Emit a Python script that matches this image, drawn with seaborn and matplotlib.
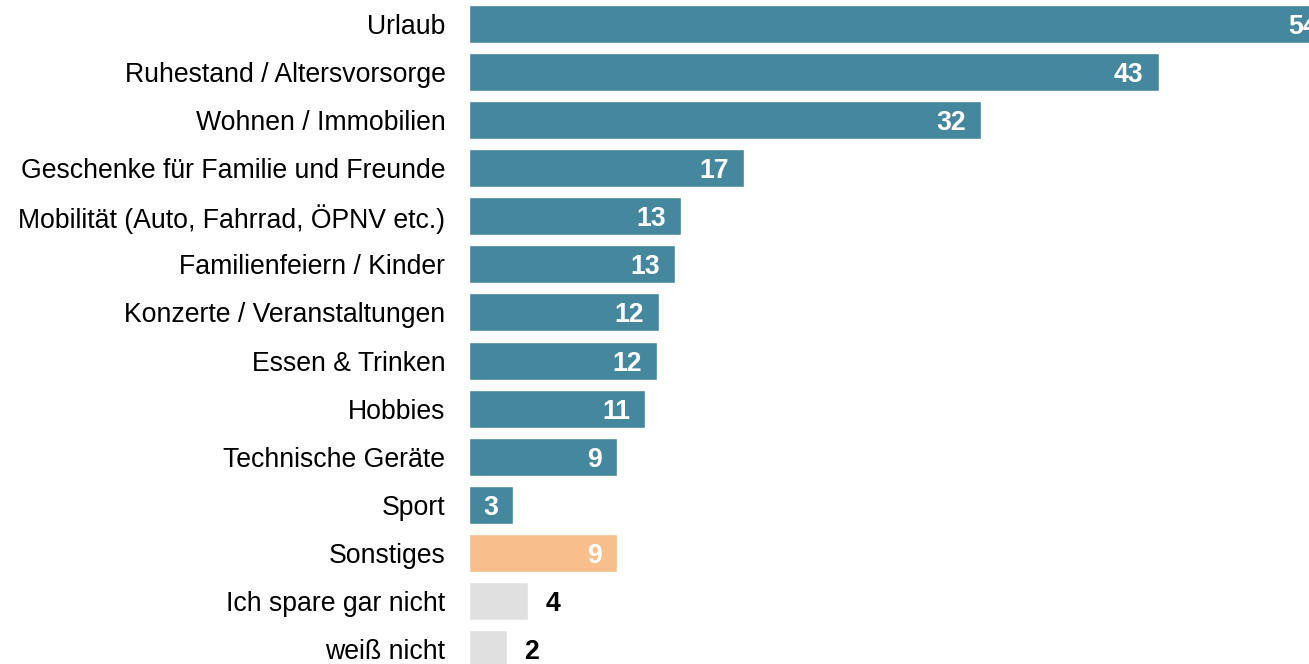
import pandas as pd
import matplotlib
matplotlib.use('Agg')
import matplotlib.pyplot as plt
import seaborn as sns

# data
categories = ['Urlaub', 'Ruhestand / Altersvorsorge', 'Wohnen / Immobilien',
              'Geschenke für Familie und Freunde', 'Mobilität (Auto, Fahrrad, ÖPNV etc.)',
              'Familienfeiern / Kinder', 'Konzerte / Veranstaltungen', 'Essen & Trinken',
              'Hobbies', 'Technische Geräte', 'Sport', 'Sonstiges',
              'Ich spare gar nicht', 'weiß nicht']
values = [54.0, 43.1, 32.0, 17.2, 13.25, 12.9, 11.9, 11.75, 11.0, 9.25, 2.75, 9.25, 3.7, 2.4]
labels = ['54', '43', '32', '17', '13', '13', '12', '12', '11', '9', '3', '9', '4', '2']
groups = ['main'] * 11 + ['other'] + ['none'] * 2

palette = {'main': '#45879C', 'other': '#F8BF8C', 'none': '#E0E0E0'}

df = pd.DataFrame({'category': categories, 'value': values, 'group': groups})

sns.set_style('white')
plt.rcParams['font.family'] = ['Liberation Sans', 'DejaVu Sans']

fig = plt.figure(figsize=(13.09, 6.64), dpi=100)
ax = fig.add_axes([469 / 1309, -9 / 664, 880 / 1309, 673 / 664])

sns.barplot(data=df, x='value', y='category', hue='group', palette=palette,
            dodge=False, legend=False, width=0.79, saturation=1, ax=ax)

ax.set_xlim(0, 55)
ax.set_xlabel('')
ax.set_ylabel('')
ax.set_xticks([])
ax.tick_params(axis='y', length=0, pad=17, labelsize=19.2, labelcolor='black')
for s in ax.spines.values():
    s.set_visible(False)

# value labels
for i, (v, lab, g) in enumerate(zip(values, labels, groups)):
    if g == 'none':
        ax.annotate(lab, (v, i), xytext=(17, 0), textcoords='offset pixels',
                    ha='left', va='center_baseline', fontsize=19.2, fontweight='bold', color='black')
    else:
        ax.annotate(lab, (v, i), xytext=(-15, 0), textcoords='offset pixels',
                    ha='right', va='center_baseline', fontsize=19.2, fontweight='bold', color='white')

fig.savefig('out.png', dpi=100)
